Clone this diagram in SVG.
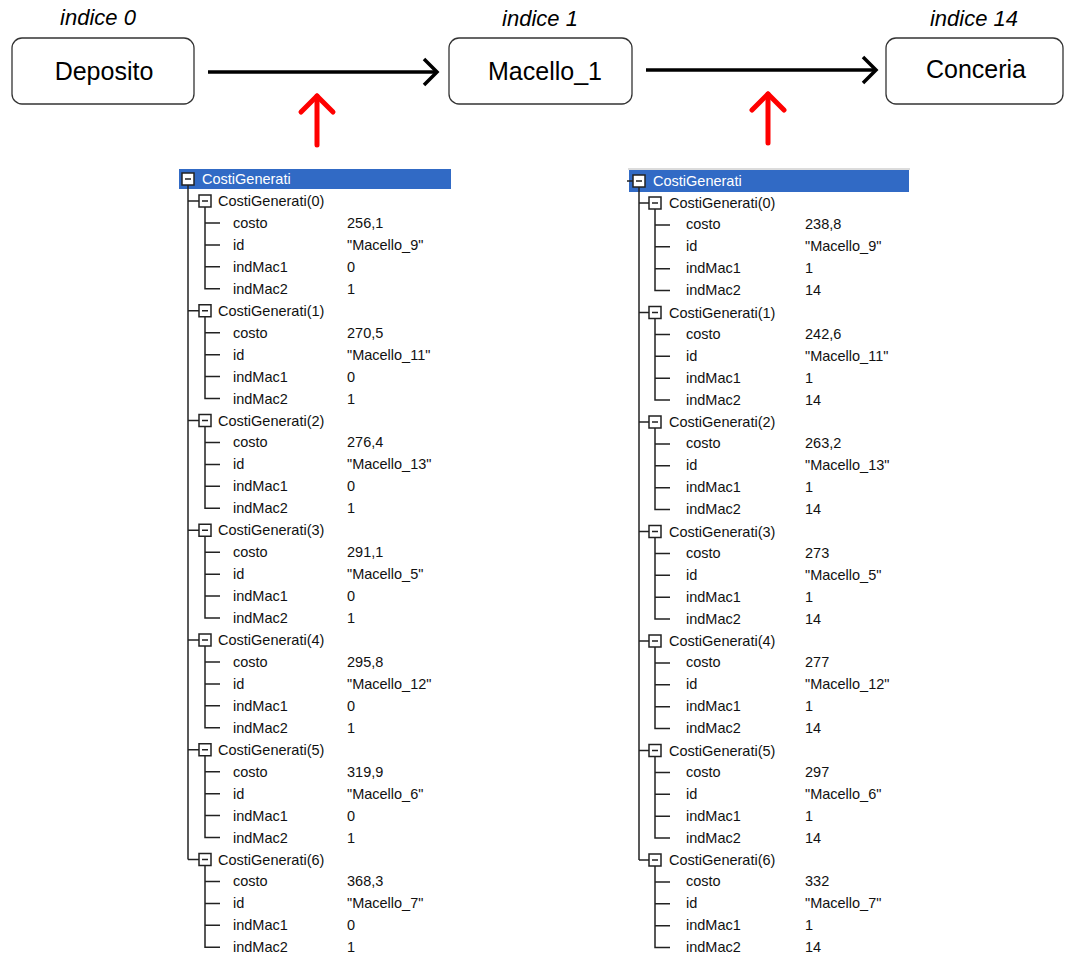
<svg xmlns="http://www.w3.org/2000/svg" width="1065" height="955" viewBox="0 0 1065 955">
<style>
.box{fill:#fff;stroke:#333;stroke-width:1.3}
.lbl{font-family:"Liberation Sans",Arial,sans-serif;font-size:25px;fill:#000;text-anchor:middle}
.idx{font-family:"Liberation Sans",Arial,sans-serif;font-size:22px;font-style:italic;fill:#000;text-anchor:middle}
.t{font-family:"Liberation Sans",Arial,sans-serif;font-size:14.5px;fill:#111}
.h{font-family:"Liberation Sans",Arial,sans-serif;font-size:14.5px;fill:#fff}
.tl{stroke:#222;stroke-width:1.5;fill:none}
.tb{fill:#fff;stroke:#222;stroke-width:1.5}
.blk{stroke:#000;stroke-width:3.5;fill:none}
.red{stroke:#f00;stroke-width:5;fill:none;stroke-linecap:round}
</style>
<defs>
<marker id="ah" markerUnits="userSpaceOnUse" markerWidth="24" markerHeight="34" viewBox="-18 -17 24 34" refX="0" refY="0" orient="auto">
<path d="M-13,-13 L0,0 L-13,13" fill="none" stroke="#000" stroke-width="3.5"/>
</marker>
<marker id="rh" markerUnits="userSpaceOnUse" markerWidth="30" markerHeight="44" viewBox="-22 -22 30 44" refX="0" refY="0" orient="auto">
<path d="M-16,-16 L0,0 L-16,16" fill="none" stroke="#f00" stroke-width="5" stroke-linecap="round" stroke-linejoin="round"/>
</marker>
</defs>
<rect width="1065" height="955" fill="#fff"/>

<g id="node-deposito">
<text class="idx" x="98" y="25">indice 0</text>
<rect class="box" x="12" y="38" width="182" height="66" rx="10"/>
<text class="lbl" x="104" y="80">Deposito</text>
</g>
<g id="node-macello1">
<text class="idx" x="540" y="26">indice 1</text>
<rect class="box" x="449" y="38" width="183" height="66" rx="10"/>
<text class="lbl" x="545" y="80">Macello_1</text>
</g>
<g id="node-conceria">
<text class="idx" x="974" y="26">indice 14</text>
<rect class="box" x="886" y="38" width="177" height="66" rx="10"/>
<text class="lbl" x="976" y="78">Conceria</text>
</g>

<g id="connectors">
<line class="blk" x1="208" y1="72" x2="437" y2="72" marker-end="url(#ah)"/>
<line class="blk" x1="646" y1="70" x2="876" y2="70" marker-end="url(#ah)"/>
<line class="red" x1="317" y1="145" x2="317" y2="96" marker-end="url(#rh)"/>
<line class="red" x1="768" y1="143" x2="768" y2="94" marker-end="url(#rh)"/>
</g>

<g id="tree-left">
<rect x="179" y="169" width="272" height="20" fill="#316ac5"/>
<line class="tl" x1="188" y1="185" x2="188" y2="859.5"/>
<rect class="tb" x="182" y="173" width="12" height="12"/>
<line class="tl" x1="185" y1="179" x2="191" y2="179"/>
<text class="h" x="202" y="184">CostiGenerati</text>
<g transform="translate(0,201)">
<line class="tl" x1="188" y1="0" x2="199" y2="0"/><rect class="tb" x="199" y="-6" width="12" height="12"/><line class="tl" x1="202" y1="0" x2="208" y2="0"/>
<text class="t" x="218" y="5">CostiGenerati(0)</text>
<path class="tl" d="M205,6V87.8H220M205,21.95H220M205,43.9H220M205,65.85H220"/>
<text class="t" x="233" y="26.95">costo</text><text class="t" x="347" y="26.95">256,1</text>
<text class="t" x="233" y="48.9">id</text><text class="t" x="347" y="48.9">"Macello_9"</text>
<text class="t" x="233" y="70.85">indMac1</text><text class="t" x="347" y="70.85">0</text>
<text class="t" x="233" y="92.8">indMac2</text><text class="t" x="347" y="92.8">1</text>
</g>
<g transform="translate(0,310.75)">
<line class="tl" x1="188" y1="0" x2="199" y2="0"/><rect class="tb" x="199" y="-6" width="12" height="12"/><line class="tl" x1="202" y1="0" x2="208" y2="0"/>
<text class="t" x="218" y="5">CostiGenerati(1)</text>
<path class="tl" d="M205,6V87.8H220M205,21.95H220M205,43.9H220M205,65.85H220"/>
<text class="t" x="233" y="26.95">costo</text><text class="t" x="347" y="26.95">270,5</text>
<text class="t" x="233" y="48.9">id</text><text class="t" x="347" y="48.9">"Macello_11"</text>
<text class="t" x="233" y="70.85">indMac1</text><text class="t" x="347" y="70.85">0</text>
<text class="t" x="233" y="92.8">indMac2</text><text class="t" x="347" y="92.8">1</text>
</g>
<g transform="translate(0,420.5)">
<line class="tl" x1="188" y1="0" x2="199" y2="0"/><rect class="tb" x="199" y="-6" width="12" height="12"/><line class="tl" x1="202" y1="0" x2="208" y2="0"/>
<text class="t" x="218" y="5">CostiGenerati(2)</text>
<path class="tl" d="M205,6V87.8H220M205,21.95H220M205,43.9H220M205,65.85H220"/>
<text class="t" x="233" y="26.95">costo</text><text class="t" x="347" y="26.95">276,4</text>
<text class="t" x="233" y="48.9">id</text><text class="t" x="347" y="48.9">"Macello_13"</text>
<text class="t" x="233" y="70.85">indMac1</text><text class="t" x="347" y="70.85">0</text>
<text class="t" x="233" y="92.8">indMac2</text><text class="t" x="347" y="92.8">1</text>
</g>
<g transform="translate(0,530.25)">
<line class="tl" x1="188" y1="0" x2="199" y2="0"/><rect class="tb" x="199" y="-6" width="12" height="12"/><line class="tl" x1="202" y1="0" x2="208" y2="0"/>
<text class="t" x="218" y="5">CostiGenerati(3)</text>
<path class="tl" d="M205,6V87.8H220M205,21.95H220M205,43.9H220M205,65.85H220"/>
<text class="t" x="233" y="26.95">costo</text><text class="t" x="347" y="26.95">291,1</text>
<text class="t" x="233" y="48.9">id</text><text class="t" x="347" y="48.9">"Macello_5"</text>
<text class="t" x="233" y="70.85">indMac1</text><text class="t" x="347" y="70.85">0</text>
<text class="t" x="233" y="92.8">indMac2</text><text class="t" x="347" y="92.8">1</text>
</g>
<g transform="translate(0,640)">
<line class="tl" x1="188" y1="0" x2="199" y2="0"/><rect class="tb" x="199" y="-6" width="12" height="12"/><line class="tl" x1="202" y1="0" x2="208" y2="0"/>
<text class="t" x="218" y="5">CostiGenerati(4)</text>
<path class="tl" d="M205,6V87.8H220M205,21.95H220M205,43.9H220M205,65.85H220"/>
<text class="t" x="233" y="26.95">costo</text><text class="t" x="347" y="26.95">295,8</text>
<text class="t" x="233" y="48.9">id</text><text class="t" x="347" y="48.9">"Macello_12"</text>
<text class="t" x="233" y="70.85">indMac1</text><text class="t" x="347" y="70.85">0</text>
<text class="t" x="233" y="92.8">indMac2</text><text class="t" x="347" y="92.8">1</text>
</g>
<g transform="translate(0,749.75)">
<line class="tl" x1="188" y1="0" x2="199" y2="0"/><rect class="tb" x="199" y="-6" width="12" height="12"/><line class="tl" x1="202" y1="0" x2="208" y2="0"/>
<text class="t" x="218" y="5">CostiGenerati(5)</text>
<path class="tl" d="M205,6V87.8H220M205,21.95H220M205,43.9H220M205,65.85H220"/>
<text class="t" x="233" y="26.95">costo</text><text class="t" x="347" y="26.95">319,9</text>
<text class="t" x="233" y="48.9">id</text><text class="t" x="347" y="48.9">"Macello_6"</text>
<text class="t" x="233" y="70.85">indMac1</text><text class="t" x="347" y="70.85">0</text>
<text class="t" x="233" y="92.8">indMac2</text><text class="t" x="347" y="92.8">1</text>
</g>
<g transform="translate(0,859.5)">
<line class="tl" x1="188" y1="0" x2="199" y2="0"/><rect class="tb" x="199" y="-6" width="12" height="12"/><line class="tl" x1="202" y1="0" x2="208" y2="0"/>
<text class="t" x="218" y="5">CostiGenerati(6)</text>
<path class="tl" d="M205,6V87.8H220M205,21.95H220M205,43.9H220M205,65.85H220"/>
<text class="t" x="233" y="26.95">costo</text><text class="t" x="347" y="26.95">368,3</text>
<text class="t" x="233" y="48.9">id</text><text class="t" x="347" y="48.9">"Macello_7"</text>
<text class="t" x="233" y="70.85">indMac1</text><text class="t" x="347" y="70.85">0</text>
<text class="t" x="233" y="92.8">indMac2</text><text class="t" x="347" y="92.8">1</text>
</g>
</g>

<g id="tree-right">
<line x1="628" y1="169" x2="910" y2="169" stroke="#b8b8b8" stroke-width="1"/>
<rect x="629" y="170" width="280" height="22" fill="#316ac5"/>
<line class="tl" x1="627" y1="181" x2="633" y2="181"/>
<line class="tl" x1="639" y1="187" x2="639" y2="860"/>
<rect class="tb" x="633" y="175" width="12" height="12"/>
<line class="tl" x1="636" y1="181" x2="642" y2="181"/>
<text class="h" x="653" y="186">CostiGenerati</text>
<g transform="translate(0,203)">
<line class="tl" x1="639" y1="0" x2="649" y2="0"/><rect class="tb" x="649" y="-6" width="12" height="12"/><line class="tl" x1="652" y1="0" x2="658" y2="0"/>
<text class="t" x="669" y="5">CostiGenerati(0)</text>
<path class="tl" d="M655,6V87.6H670M655,21.9H670M655,43.8H670M655,65.7H670"/>
<text class="t" x="686" y="26.4">costo</text><text class="t" x="805" y="26.4">238,8</text>
<text class="t" x="686" y="48.3">id</text><text class="t" x="805" y="48.3">"Macello_9"</text>
<text class="t" x="686" y="70.2">indMac1</text><text class="t" x="805" y="70.2">1</text>
<text class="t" x="686" y="92.1">indMac2</text><text class="t" x="805" y="92.1">14</text>
</g>
<g transform="translate(0,312.5)">
<line class="tl" x1="639" y1="0" x2="649" y2="0"/><rect class="tb" x="649" y="-6" width="12" height="12"/><line class="tl" x1="652" y1="0" x2="658" y2="0"/>
<text class="t" x="669" y="5">CostiGenerati(1)</text>
<path class="tl" d="M655,6V87.6H670M655,21.9H670M655,43.8H670M655,65.7H670"/>
<text class="t" x="686" y="26.4">costo</text><text class="t" x="805" y="26.4">242,6</text>
<text class="t" x="686" y="48.3">id</text><text class="t" x="805" y="48.3">"Macello_11"</text>
<text class="t" x="686" y="70.2">indMac1</text><text class="t" x="805" y="70.2">1</text>
<text class="t" x="686" y="92.1">indMac2</text><text class="t" x="805" y="92.1">14</text>
</g>
<g transform="translate(0,422)">
<line class="tl" x1="639" y1="0" x2="649" y2="0"/><rect class="tb" x="649" y="-6" width="12" height="12"/><line class="tl" x1="652" y1="0" x2="658" y2="0"/>
<text class="t" x="669" y="5">CostiGenerati(2)</text>
<path class="tl" d="M655,6V87.6H670M655,21.9H670M655,43.8H670M655,65.7H670"/>
<text class="t" x="686" y="26.4">costo</text><text class="t" x="805" y="26.4">263,2</text>
<text class="t" x="686" y="48.3">id</text><text class="t" x="805" y="48.3">"Macello_13"</text>
<text class="t" x="686" y="70.2">indMac1</text><text class="t" x="805" y="70.2">1</text>
<text class="t" x="686" y="92.1">indMac2</text><text class="t" x="805" y="92.1">14</text>
</g>
<g transform="translate(0,531.5)">
<line class="tl" x1="639" y1="0" x2="649" y2="0"/><rect class="tb" x="649" y="-6" width="12" height="12"/><line class="tl" x1="652" y1="0" x2="658" y2="0"/>
<text class="t" x="669" y="5">CostiGenerati(3)</text>
<path class="tl" d="M655,6V87.6H670M655,21.9H670M655,43.8H670M655,65.7H670"/>
<text class="t" x="686" y="26.4">costo</text><text class="t" x="805" y="26.4">273</text>
<text class="t" x="686" y="48.3">id</text><text class="t" x="805" y="48.3">"Macello_5"</text>
<text class="t" x="686" y="70.2">indMac1</text><text class="t" x="805" y="70.2">1</text>
<text class="t" x="686" y="92.1">indMac2</text><text class="t" x="805" y="92.1">14</text>
</g>
<g transform="translate(0,641)">
<line class="tl" x1="639" y1="0" x2="649" y2="0"/><rect class="tb" x="649" y="-6" width="12" height="12"/><line class="tl" x1="652" y1="0" x2="658" y2="0"/>
<text class="t" x="669" y="5">CostiGenerati(4)</text>
<path class="tl" d="M655,6V87.6H670M655,21.9H670M655,43.8H670M655,65.7H670"/>
<text class="t" x="686" y="26.4">costo</text><text class="t" x="805" y="26.4">277</text>
<text class="t" x="686" y="48.3">id</text><text class="t" x="805" y="48.3">"Macello_12"</text>
<text class="t" x="686" y="70.2">indMac1</text><text class="t" x="805" y="70.2">1</text>
<text class="t" x="686" y="92.1">indMac2</text><text class="t" x="805" y="92.1">14</text>
</g>
<g transform="translate(0,750.5)">
<line class="tl" x1="639" y1="0" x2="649" y2="0"/><rect class="tb" x="649" y="-6" width="12" height="12"/><line class="tl" x1="652" y1="0" x2="658" y2="0"/>
<text class="t" x="669" y="5">CostiGenerati(5)</text>
<path class="tl" d="M655,6V87.6H670M655,21.9H670M655,43.8H670M655,65.7H670"/>
<text class="t" x="686" y="26.4">costo</text><text class="t" x="805" y="26.4">297</text>
<text class="t" x="686" y="48.3">id</text><text class="t" x="805" y="48.3">"Macello_6"</text>
<text class="t" x="686" y="70.2">indMac1</text><text class="t" x="805" y="70.2">1</text>
<text class="t" x="686" y="92.1">indMac2</text><text class="t" x="805" y="92.1">14</text>
</g>
<g transform="translate(0,860)">
<line class="tl" x1="639" y1="0" x2="649" y2="0"/><rect class="tb" x="649" y="-6" width="12" height="12"/><line class="tl" x1="652" y1="0" x2="658" y2="0"/>
<text class="t" x="669" y="5">CostiGenerati(6)</text>
<path class="tl" d="M655,6V87.6H670M655,21.9H670M655,43.8H670M655,65.7H670"/>
<text class="t" x="686" y="26.4">costo</text><text class="t" x="805" y="26.4">332</text>
<text class="t" x="686" y="48.3">id</text><text class="t" x="805" y="48.3">"Macello_7"</text>
<text class="t" x="686" y="70.2">indMac1</text><text class="t" x="805" y="70.2">1</text>
<text class="t" x="686" y="92.1">indMac2</text><text class="t" x="805" y="92.1">14</text>
</g>
</g>
</svg>
